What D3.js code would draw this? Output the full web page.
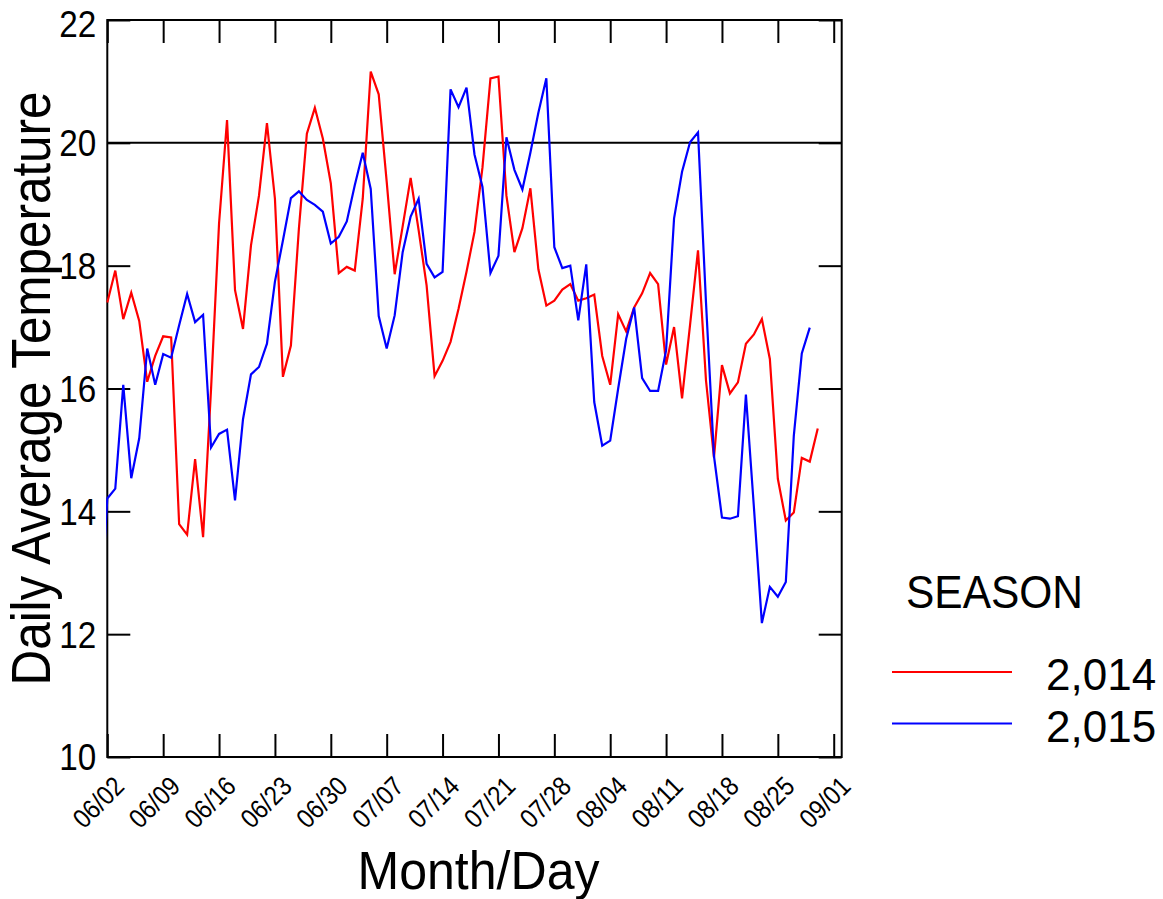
<!DOCTYPE html>
<html>
<head>
<meta charset="utf-8">
<script src="https://cdn.jsdelivr.net/npm/d3@7"></script>
<style>
  html, body { margin: 0; padding: 0; background: #fff; }
  svg { display: block; }
  text { font-family: "Liberation Sans", Arial, sans-serif; fill: #000; }
</style>
</head>
<body>
<svg id="chart" width="1163" height="899"></svg>
<script>
// Daily average temperature, summer seasons 2014 and 2015
const seasons = ["2,014", "2,015"];
const seriesColors = ["#ff0000", "#0000ff"];

// 2014 season, one value per day starting 06/02
const start2014 = "06/02";
const temps2014 = [
  17.40, 17.92, 17.13, 17.56, 17.10, 16.11, 16.53, 16.85, 16.83, 13.79,
  13.62, 14.85, 13.58, 16.00, 18.69, 20.37, 17.60, 16.97, 18.33, 19.14,
  20.32, 19.09, 16.19, 16.70, 18.60, 20.15, 20.57, 20.07, 19.34, 17.88,
  17.98, 17.92, 19.09, 21.16, 20.79, 19.37, 17.86, 18.64, 19.43, 18.58,
  17.68, 16.20, 16.45, 16.76, 17.30, 17.90, 18.55, 19.60, 21.05, 21.08,
  19.14, 18.22, 18.61, 19.26, 17.94, 17.35, 17.43, 17.61, 17.70, 17.43,
  17.47, 17.53, 16.53, 16.06, 17.21, 16.93, 17.32, 17.55, 17.88, 17.70,
  16.39, 17.00, 15.84, 17.03, 18.25, 16.13, 14.88, 16.38, 15.92, 16.10,
  16.73, 16.88, 17.13, 16.48, 14.53, 13.85, 13.98, 14.87, 14.81, 15.35
];

// 2015 season, one value per day starting 06/01
const start2015 = "06/01";
const temps2015 = [
  12.00,
  14.21, 14.37, 16.06, 14.54, 15.19, 16.65, 16.06, 16.56, 16.50, 17.03,
  17.54, 17.08, 17.20, 15.04, 15.26, 15.33, 14.18, 15.50, 16.23, 16.35,
  16.73, 17.74, 18.41, 19.10, 19.21, 19.07, 18.99, 18.88, 18.36, 18.47,
  18.72, 19.31, 19.84, 19.25, 17.18, 16.65, 17.19, 18.22, 18.80, 19.09,
  18.03, 17.81, 17.90, 20.87, 20.58, 20.90, 19.81, 19.28, 17.88, 18.16,
  20.09, 19.56, 19.24, 19.84, 20.49, 21.05, 18.30, 17.96, 18.00, 17.11,
  18.02, 15.78, 15.07, 15.15, 16.00, 16.81, 17.32, 16.17, 15.96, 15.96,
  16.62, 18.77, 19.53, 20.01, 20.17, 17.40, 14.90, 13.90, 13.88, 13.92,
  15.90, 14.07, 12.18, 12.77, 12.61, 12.85, 15.23, 16.57, 16.99
];

// Axis definitions
const xDomain = ["06/02", "09/02"];
const xTickLabels = ["06/02", "06/09", "06/16", "06/23", "06/30", "07/07", "07/14",
                     "07/21", "07/28", "08/04", "08/11", "08/18", "08/25", "09/01"];
const yDomain = [10, 22];
const yTickValues = [10, 12, 14, 16, 18, 20, 22];
const refLineValue = 20;

const xTitle = "Month/Day";
const yTitle = "Daily Average Temperature";
const legendTitle = "SEASON";

// ---------------------------------------------------------------
const parseMD = d3.timeParse("%Y/%m/%d");
const md = s => parseMD("2015/" + s);
const fmtMD = d3.timeFormat("%m/%d");

function toSeries(startLabel, values) {
  const s = md(startLabel);
  return values.map((v, i) => ({ date: d3.timeDay.offset(s, i), value: v }));
}
const series = [toSeries(start2014, temps2014), toSeries(start2015, temps2015)];

const plot = { left: 107.3, right: 841.7, top: 20, bottom: 757 };

const svg = d3.select("#chart");

const x = d3.scaleTime().domain(xDomain.map(md)).range([plot.left, plot.right]);
const y = d3.scaleLinear().domain(yDomain).range([plot.bottom, plot.top]);

const tickLen = 23;
const xTicks = xTickLabels.map(md);

// clip region for the data lines (includes the frame stroke)
svg.append("defs").append("clipPath").attr("id", "plotClip")
  .append("rect")
  .attr("x", plot.left - 1.2).attr("y", plot.top)
  .attr("width", plot.right - plot.left + 1.2).attr("height", plot.bottom - plot.top);

// reference line at 20
svg.append("line")
  .attr("x1", plot.left).attr("x2", plot.right)
  .attr("y1", y(refLineValue)).attr("y2", y(refLineValue))
  .attr("stroke", "#000").attr("stroke-width", 2);

// axes: ticks point inward on all four sides
const axisStyle = g => {
  g.select(".domain").remove();
  g.selectAll(".tick line").attr("stroke", "#000").attr("stroke-width", 2);
};

const xBottom = svg.append("g").attr("transform", `translate(0,${plot.bottom})`)
  .call(d3.axisBottom(x).tickValues(xTicks).tickSizeInner(-tickLen).tickSizeOuter(0).tickFormat(fmtMD))
  .call(axisStyle);
xBottom.selectAll(".tick text")
  .attr("font-size", 27)
  .attr("text-anchor", "end")
  .attr("dy", null)
  .attr("x", 18).attr("y", 31)
  .attr("textLength", 59).attr("lengthAdjust", "spacingAndGlyphs")
  .attr("transform", "rotate(-45, 18, 31)")
  .style("font-family", "'Liberation Sans', Arial, sans-serif");

svg.append("g").attr("transform", `translate(0,${plot.top})`)
  .call(d3.axisTop(x).tickValues(xTicks).tickSizeInner(-tickLen).tickSizeOuter(0).tickFormat(""))
  .call(axisStyle);

const yLeft = svg.append("g").attr("transform", `translate(${plot.left},0)`)
  .call(d3.axisLeft(y).tickValues(yTickValues).tickSizeInner(-tickLen).tickSizeOuter(0).tickFormat(d3.format("d")))
  .call(axisStyle);
yLeft.selectAll(".tick text")
  .attr("font-size", 36)
  .attr("x", -11)
  .attr("dy", "0.36em")
  .attr("textLength", 37).attr("lengthAdjust", "spacingAndGlyphs")
  .attr("y", d => (y(d) < plot.top + 5 ? 4 : 0))
  .style("font-family", "'Liberation Sans', Arial, sans-serif");

svg.append("g").attr("transform", `translate(${plot.right},0)`)
  .call(d3.axisRight(y).tickValues(yTickValues).tickSizeInner(-tickLen).tickSizeOuter(0).tickFormat(""))
  .call(axisStyle);

// frame
svg.append("rect")
  .attr("x", plot.left).attr("y", plot.top)
  .attr("width", plot.right - plot.left).attr("height", plot.bottom - plot.top)
  .attr("fill", "none").attr("stroke", "#000").attr("stroke-width", 2);

// series lines, drawn over the frame
const line = d3.line().x(d => x(d.date)).y(d => y(d.value));
svg.append("g").attr("clip-path", "url(#plotClip)")
  .selectAll("path").data(series).join("path")
  .attr("d", line)
  .attr("fill", "none")
  .attr("stroke", (d, i) => seriesColors[i])
  .attr("stroke-width", 2.2)
  .attr("stroke-linejoin", "miter");

// axis titles
svg.append("text")
  .attr("x", (plot.left + plot.right) / 2 + 4).attr("y", 889)
  .attr("text-anchor", "middle")
  .attr("font-size", 53)
  .attr("textLength", 242).attr("lengthAdjust", "spacingAndGlyphs")
  .text(xTitle);

svg.append("text")
  .attr("transform", `translate(50,${(plot.top + plot.bottom) / 2}) rotate(-90)`)
  .attr("text-anchor", "middle")
  .attr("font-size", 55)
  .attr("textLength", 594).attr("lengthAdjust", "spacingAndGlyphs")
  .text(yTitle);

// legend
const legend = svg.append("g");
legend.append("text")
  .attr("x", 906).attr("y", 608)
  .attr("font-size", 47)
  .attr("textLength", 177).attr("lengthAdjust", "spacingAndGlyphs")
  .text(legendTitle);

const legendRows = [672, 723.5];
seasons.forEach((s, i) => {
  legend.append("line")
    .attr("x1", 892).attr("x2", 1012)
    .attr("y1", legendRows[i]).attr("y2", legendRows[i])
    .attr("stroke", seriesColors[i]).attr("stroke-width", 2.2);
  legend.append("text")
    .attr("x", 1046).attr("y", legendRows[i] + 18)
    .attr("font-size", 44)
    .text(s);
});
</script>
</body>
</html>
